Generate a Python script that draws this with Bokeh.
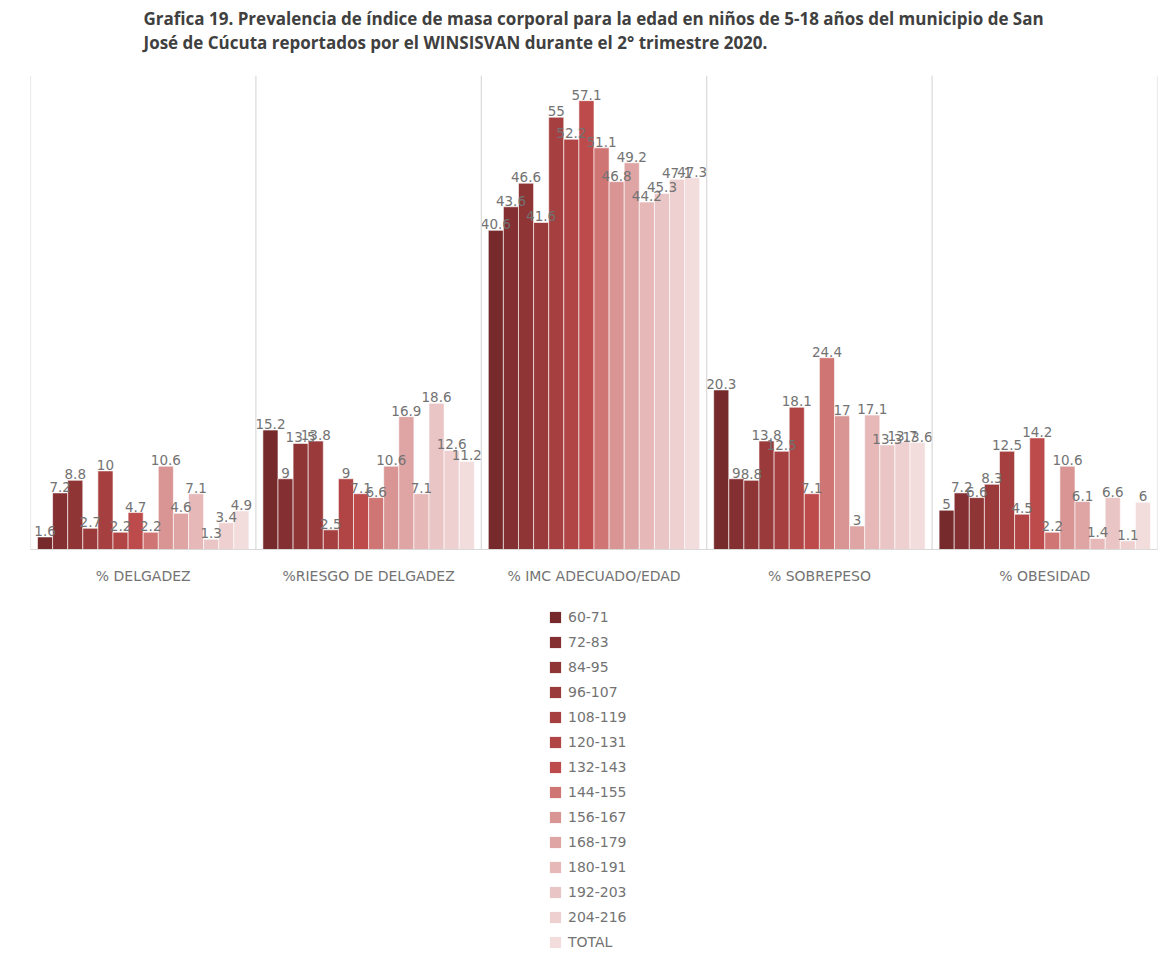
from bokeh.plotting import figure
from bokeh.layouts import column
from bokeh.models import (ColumnDataSource, FactorRange, Range1d, Legend, LegendItem,
                          Span)
from bokeh.transform import dodge
from bokeh.core.properties import value
from bokeh.embed import file_html
from bokeh.resources import INLINE

# BMI-for-age categories (x axis)
categories = ["% DELGADEZ", "%RIESGO DE DELGADEZ", "% IMC ADECUADO/EDAD",
              "% SOBREPESO", "% OBESIDAD"]

# Age groups in months (one bar per group inside each category)
age_groups = ["60-71", "72-83", "84-95", "96-107", "108-119", "120-131", "132-143",
              "144-155", "156-167", "168-179", "180-191", "192-203", "204-216", "TOTAL"]

# Percentages per category, in age-group order
delgadez = [1.6, 7.2, 8.8, 2.7, 10, 2.2, 4.7, 2.2, 10.6, 4.6, 7.1, 1.3, 3.4, 4.9]
riesgo_delgadez = [15.2, 9, 13.5, 13.8, 2.5, 9, 7.1, 6.6, 10.6, 16.9, 7.1, 18.6, 12.6, 11.2]
imc_adecuado = [40.6, 43.6, 46.6, 41.6, 55, 52.2, 57.1, 51.1, 46.8, 49.2, 44.2, 45.3, 47.1, 47.3]
sobrepeso = [20.3, 9, 8.8, 13.8, 12.5, 18.1, 7.1, 24.4, 17, 3, 17.1, 13.3, 13.7, 13.6]
obesidad = [5, 7.2, 6.6, 8.3, 12.5, 4.5, 14.2, 2.2, 10.6, 6.1, 1.4, 6.6, 1.1, 6]

series_by_category = [delgadez, riesgo_delgadez, imc_adecuado, sobrepeso, obesidad]

title_lines = ["Grafica 19. Prevalencia de índice de masa corporal para la edad en niños de 5-18 años del municipio de San",
               "José de Cúcuta reportados por el WINSISVAN durante el 2° trimestre 2020."]

colors = ["#762a2b", "#843033", "#8f3536", "#9a3a3b", "#a63f3f", "#b14444", "#be4b4b",
          "#cf7674", "#d99594", "#dfa5a5", "#e6b8b8", "#eac5c5", "#efd0d0", "#f2dcdc"]

TEXT = "#737373"
FONT = "DejaVu Sans"
W, LEFT, RIGHT = 1167, 30, 10

# ---- heading strip -------------------------------------------------------
head = figure(width=W, height=75, output_backend="svg", toolbar_location=None,
              x_range=Range1d(0, W - LEFT - RIGHT), y_range=Range1d(0, 75),
              min_border_left=LEFT, min_border_right=RIGHT, min_border_top=0,
              min_border_bottom=0, outline_line_color=None)
head.axis.visible = False
head.grid.visible = False
head.text(x=[113, 113], y=[57, 33], text=title_lines, text_baseline="middle",
          text_align="left", text_font=value("Open Sans"), text_font_size="17px",
          text_font_style="bold", text_color="#404040")

# ---- grouped bars --------------------------------------------------------
data = {"cat": categories}
for i, g in enumerate(age_groups):
    data[f"v{i}"] = [vals[i] for vals in series_by_category]
    data[f"t{i}"] = [f"{vals[i]:g}" for vals in series_by_category]
source = ColumnDataSource(data)

p = figure(x_range=FactorRange(factors=categories, range_padding=0),
           y_range=Range1d(0, 60.3),
           width=W, height=525,
           output_backend="svg", toolbar_location=None,
           min_border_left=LEFT, min_border_right=RIGHT, min_border_top=0,
           min_border_bottom=51, outline_line_color=None)

bar_w = 0.067
offsets = [(i - (len(age_groups) - 1) / 2) * bar_w for i in range(len(age_groups))]

for i, g in enumerate(age_groups):
    p.vbar(x=dodge("cat", offsets[i], range=p.x_range), top=f"v{i}", width=bar_w,
           source=source, fill_color=colors[i], line_color="white", line_width=0.6)

# Value labels drawn after all bars so none is hidden
for i, g in enumerate(age_groups):
    p.text(x=dodge("cat", offsets[i], range=p.x_range), y=f"v{i}", text=f"t{i}",
           source=source, text_align="center", text_baseline="bottom", y_offset=-1,
           text_font=value(FONT), text_font_size="13.5px", text_color=TEXT)

# Light separators between categories
for k in range(len(categories) + 1):
    p.add_layout(Span(location=k, dimension="height", line_color="#d9d9d9", line_width=1.2))

p.xgrid.grid_line_color = None
p.ygrid.grid_line_color = None
p.yaxis.visible = False

ax = p.xaxis[0]
ax.axis_line_color = "#d9d9d9"
ax.major_tick_line_color = None
ax.minor_tick_line_color = None
ax.major_label_text_font = FONT
ax.major_label_text_font_size = "14px"
ax.major_label_text_color = TEXT
ax.major_label_standoff = 12

# ---- legend panel, one swatch per age group ------------------------------
lg = figure(width=W, height=370, output_backend="svg", toolbar_location=None,
            x_range=(0, 1), y_range=(0, 1), min_border_left=LEFT, min_border_right=RIGHT,
            min_border_top=0, min_border_bottom=0, outline_line_color=None)
lg.axis.visible = False
lg.grid.visible = False
items = []
for i, g in enumerate(age_groups):
    r = lg.vbar(x=[0.5], top=[0], width=0.01, fill_color=colors[i], line_color=None)
    items.append(LegendItem(label=g, renderers=[r]))

legend = Legend(items=items, orientation="vertical", location=(518, 20),
                glyph_width=14, glyph_height=14, label_height=14, spacing=9,
                label_text_font=FONT, label_text_font_size="14px",
                label_text_color=TEXT, label_standoff=6,
                border_line_color=None, background_fill_alpha=0, margin=0, padding=5)
lg.add_layout(legend)

open("out.html", "w").write(file_html(column(head, p, lg, spacing=0), INLINE))
